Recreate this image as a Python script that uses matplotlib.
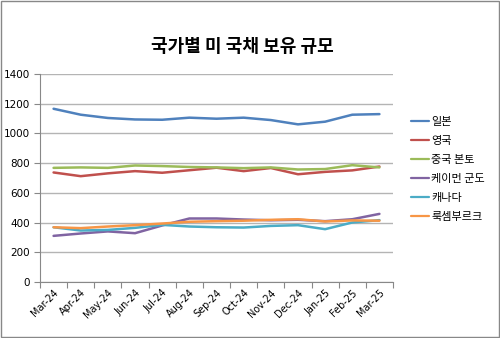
#%% Imports
import matplotlib
matplotlib.use('Agg')
import matplotlib.pyplot as plt
from matplotlib.patches import Rectangle

plt.rcParams['font.family'] = ['Noto Sans CJK KR', 'DejaVu Sans']

#%% Data
months = ['Mar-24', 'Apr-24', 'May-24', 'Jun-24', 'Jul-24', 'Aug-24', 'Sep-24',
          'Oct-24', 'Nov-24', 'Dec-24', 'Jan-25', 'Feb-25', 'Mar-25']

japan = [1166, 1126, 1104, 1094, 1092, 1106, 1099, 1106, 1090, 1061, 1079, 1126, 1130]
uk = [737, 712, 731, 746, 735, 752, 769, 746, 767, 725, 741, 751, 777]
china = [768, 771, 768, 784, 780, 774, 771, 766, 771, 757, 760, 786, 771]
cayman = [310, 326, 340, 328, 380, 427, 427, 420, 415, 418, 409, 422, 458]
canada = [368, 346, 350, 364, 384, 373, 368, 366, 377, 382, 355, 400, 416]
luxembourg = [368, 362, 373, 382, 393, 405, 409, 412, 418, 422, 407, 414, 412]

series_names = ['일본', '영국', '중국 본토', '케이먼 군도', '캐나다', '룩셈부르크']
series_values = [japan, uk, china, cayman, canada, luxembourg]
series_colors = ['#4F81BD', '#C0504D', '#9BBB59', '#8064A2', '#4BACC6', '#F79646']

#%% Figure
fig = plt.figure(figsize=(5, 3.38), dpi=100)
ax = fig.add_axes([0.08, 0.166, 0.706, 0.615])

x = list(range(len(months)))
for name, vals, col in zip(series_names, series_values, series_colors):
    ax.plot(x, vals, color=col, lw=1.8, label=name, solid_capstyle='round')

ax.set_xlim(-0.5, len(months) - 0.5)
ax.set_ylim(0, 1400)
ax.set_yticks(range(0, 1401, 200))
ax.yaxis.grid(True, color='#B4B4B4', lw=1)
ax.set_axisbelow(True)

# category ticks sit between the months, labels on the months
ax.set_xticks([i - 0.5 for i in range(len(months) + 1)])
ax.set_xticklabels([])
ax.set_xticks(x, minor=True)
ax.set_xticklabels(months, minor=True, rotation=45, ha='right',
                   rotation_mode='anchor', fontsize=7, family='DejaVu Sans')
ax.tick_params(axis='x', which='minor', length=0, pad=4)
ax.tick_params(axis='x', which='major', length=4, color='#888888')
ax.tick_params(axis='y', length=4, color='#888888', labelsize=7.5)
for lbl in ax.get_yticklabels():
    lbl.set_family('DejaVu Sans')

for side in ['top', 'right']:
    ax.spines[side].set_visible(False)
for side in ['left', 'bottom']:
    ax.spines[side].set_color('#888888')

fig.text(0.485, 0.862, '국가별 미 국채 보유 규모', ha='center', va='center',
         fontsize=13, fontweight='bold')

leg = fig.legend(loc='upper left', bbox_to_anchor=(0.802, 0.683), frameon=False,
                 fontsize=8, handlelength=1.6, handletextpad=0.2, labelspacing=0.8)
for h in leg.get_lines():
    h.set_linewidth(1.6)

fig.patches.append(Rectangle((0.002, 0.003), 0.995, 0.993, transform=fig.transFigure,
                             fill=False, edgecolor='#888888', lw=1))

fig.savefig('out.png', dpi=100)
